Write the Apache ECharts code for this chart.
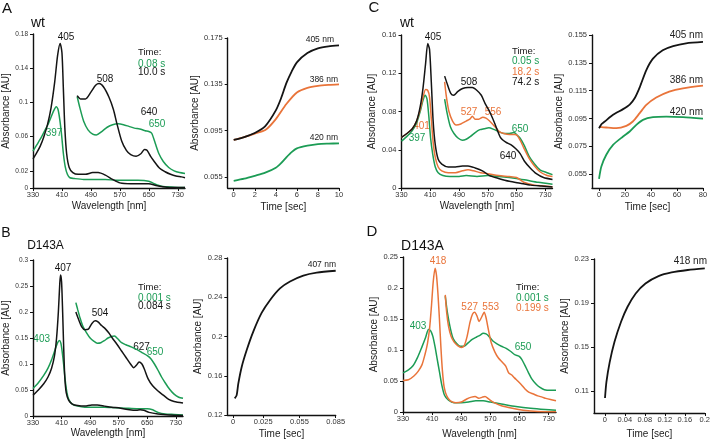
<!DOCTYPE html>
<html><head><meta charset="utf-8">
<script src="https://cdn.jsdelivr.net/npm/echarts@6/dist/echarts.min.js"></script>
<style>html,body{margin:0;padding:0;background:#fff}#c{width:713px;height:440px}</style>
</head><body><div id="c"></div>
<script>
// ---------- DATA ----------
const wlTicks = [330, 410, 490, 570, 650, 730];
// Panel A (wt) spectra
const A_black_full = [[330,0.034],[340,0.041],[350,0.049],[360,0.060],[370,0.074],[380,0.094],[390,0.124],[398,0.155],[405,0.169],[410,0.158],[414,0.115],[418,0.070],[423,0.040],[430,0.024],[440,0.018],[455,0.016],[475,0.016],[495,0.018],[510,0.018],[530,0.015],[550,0.010],[570,0.006],[600,0.005],[630,0.005],[650,0.005],[670,0.003],[700,0.001],[750,0.0005]];
const A_green_full = [[330,0.043],[340,0.050],[350,0.057],[360,0.065],[370,0.073],[380,0.083],[388,0.091],[394,0.095],[399,0.092],[404,0.080],[409,0.062],[414,0.040],[419,0.025],[425,0.016],[432,0.012],[445,0.011],[470,0.010],[500,0.010],[530,0.010],[560,0.009],[590,0.009],[620,0.009],[650,0.008],[665,0.005],[685,0.002],[720,0.001],[750,0.0005]];
const A_black_ins = [[452,0.108],[462,0.104],[475,0.104],[490,0.112],[503,0.120],[513,0.122],[525,0.118],[540,0.106],[552,0.092],[562,0.075],[575,0.055],[588,0.044],[600,0.039],[615,0.037],[628,0.040],[638,0.045],[645,0.044],[655,0.037],[665,0.031],[680,0.023],[695,0.019],[710,0.016],[725,0.014],[740,0.013],[750,0.012]];
const A_green_ins = [[452,0.107],[460,0.093],[470,0.078],[482,0.068],[495,0.063],[505,0.062],[520,0.066],[535,0.071],[550,0.074],[565,0.075],[580,0.074],[595,0.072],[610,0.070],[625,0.069],[640,0.067],[650,0.066],[658,0.064],[668,0.052],[678,0.040],[690,0.031],[705,0.024],[720,0.020],[735,0.018],[750,0.017]];
// Panel A kinetics (sec, AU)
const A_k405 = [[0,0.087],[1,0.0895],[2,0.093],[3,0.099],[4,0.1125],[4.5,0.123],[5,0.136],[5.5,0.146],[6,0.154],[7,0.162],[8,0.166],[9,0.1678],[10,0.1687]];
const A_k386 = [[0,0.087],[1,0.0895],[2,0.0925],[3,0.0955],[4,0.105],[5,0.118],[6,0.128],[7,0.132],[8,0.1337],[9,0.1345],[10,0.135]];
const A_k420 = [[0,0.0516],[1,0.0535],[2,0.056],[3,0.0587],[4,0.063],[4.5,0.067],[5,0.072],[5.5,0.0765],[6,0.0797],[7,0.082],[8,0.0834],[9,0.0838],[10,0.084]];
// Panel B (D143A) spectra
const B_black_full = [[330,0.040],[345,0.050],[360,0.062],[372,0.075],[382,0.092],[390,0.115],[396,0.150],[401,0.200],[405,0.255],[407,0.271],[410,0.258],[413,0.200],[416,0.130],[419,0.075],[423,0.045],[430,0.030],[440,0.023],[455,0.020],[475,0.019],[495,0.021],[510,0.021],[530,0.019],[550,0.017],[575,0.015],[600,0.012],[620,0.011],[630,0.012],[640,0.011],[655,0.007],[680,0.004],[710,0.002],[750,0.001]];
const B_green_full = [[330,0.053],[345,0.064],[360,0.078],[372,0.092],[382,0.108],[392,0.128],[399,0.141],[404,0.145],[408,0.140],[412,0.122],[416,0.098],[420,0.070],[425,0.045],[430,0.032],[440,0.023],[455,0.019],[475,0.017],[500,0.017],[530,0.017],[560,0.016],[590,0.015],[620,0.014],[650,0.014],[665,0.012],[680,0.007],[700,0.004],[725,0.003],[750,0.002]];
const B_black_ins = [[450,0.200],[458,0.185],[466,0.172],[475,0.166],[485,0.167],[495,0.178],[504,0.183],[512,0.181],[522,0.174],[532,0.168],[542,0.160],[552,0.150],[565,0.138],[578,0.125],[590,0.113],[603,0.100],[612,0.093],[620,0.098],[627,0.104],[635,0.100],[642,0.090],[652,0.072],[665,0.058],[680,0.048],[695,0.040],[710,0.032],[725,0.028],[750,0.025]];
const B_green_ins = [[450,0.218],[455,0.205],[462,0.188],[470,0.172],[480,0.160],[490,0.150],[500,0.144],[510,0.140],[520,0.141],[530,0.145],[540,0.150],[550,0.153],[558,0.154],[568,0.148],[578,0.141],[590,0.137],[605,0.133],[620,0.128],[635,0.122],[650,0.116],[660,0.110],[670,0.100],[680,0.088],[690,0.075],[700,0.064],[712,0.052],[725,0.042],[738,0.036],[750,0.034]];
// Panel B kinetics
const B_k407 = [[0.0014,0.137],[0.003,0.140],[0.0044,0.152],[0.0072,0.169],[0.0113,0.186],[0.0168,0.205],[0.0237,0.224],[0.0306,0.237],[0.0389,0.249],[0.0472,0.256],[0.0582,0.262],[0.0693,0.265],[0.085,0.267]];
// Panel C (wt) spectra
const C_black_full = [[330,0.053],[345,0.057],[360,0.062],[372,0.070],[382,0.085],[390,0.105],[397,0.130],[403,0.151],[408,0.145],[413,0.110],[418,0.070],[424,0.045],[432,0.030],[442,0.025],[460,0.022],[480,0.022],[500,0.023],[515,0.023],[535,0.021],[555,0.018],[575,0.013],[600,0.010],[630,0.007],[660,0.005],[690,0.003],[720,0.002],[750,0.001]];
const C_orange_full = [[330,0.053],[345,0.057],[360,0.062],[372,0.070],[382,0.082],[390,0.095],[397,0.103],[403,0.102],[408,0.095],[413,0.072],[418,0.048],[424,0.032],[432,0.022],[442,0.018],[460,0.016],[480,0.016],[500,0.018],[515,0.019],[530,0.018],[550,0.016],[570,0.015],[600,0.013],[630,0.012],[650,0.011],[670,0.006],[700,0.003],[730,0.002],[750,0.001]];
const C_green_full = [[330,0.049],[345,0.054],[360,0.060],[372,0.068],[382,0.080],[390,0.092],[396,0.097],[401,0.093],[406,0.075],[411,0.052],[417,0.035],[424,0.022],[432,0.016],[445,0.013],[465,0.012],[490,0.012],[510,0.013],[540,0.012],[570,0.013],[600,0.012],[630,0.011],[650,0.010],[680,0.008],[710,0.006],[750,0.004]];
const C_black_ins = [[450,0.117],[458,0.108],[467,0.099],[475,0.097],[487,0.101],[500,0.104],[515,0.105],[527,0.105],[540,0.102],[552,0.097],[563,0.088],[575,0.080],[590,0.067],[605,0.053],[620,0.048],[635,0.045],[648,0.041],[660,0.036],[672,0.028],[688,0.021],[705,0.015],[725,0.011],[750,0.009]];
const C_orange_ins = [[450,0.111],[455,0.095],[462,0.080],[472,0.070],[482,0.066],[495,0.067],[510,0.070],[520,0.072],[527,0.075],[535,0.072],[545,0.072],[556,0.074],[565,0.073],[575,0.070],[590,0.064],[602,0.059],[615,0.057],[630,0.056],[645,0.056],[652,0.055],[660,0.050],[670,0.042],[685,0.031],[700,0.023],[715,0.017],[735,0.013],[750,0.012]];
const C_green_ins = [[450,0.093],[457,0.078],[466,0.064],[476,0.057],[488,0.052],[499,0.050],[510,0.051],[522,0.054],[535,0.058],[548,0.061],[560,0.062],[573,0.063],[588,0.061],[600,0.059],[615,0.057],[630,0.057],[643,0.058],[652,0.055],[660,0.052],[672,0.044],[685,0.033],[700,0.025],[715,0.019],[735,0.016],[750,0.014]];
// Panel C kinetics
const C_k405 = [[0,0.088],[2,0.091],[4.4,0.0928],[10.8,0.0976],[18.5,0.1017],[23.6,0.105],[27.4,0.1095],[31.3,0.1174],[36.4,0.1298],[41.5,0.138],[49,0.144],[57,0.147],[67,0.149],[80,0.150]];
const C_k386 = [[0,0.089],[5.6,0.0885],[13.3,0.088],[21,0.0897],[26,0.0928],[31.3,0.0988],[36.4,0.1047],[44,0.110],[54,0.1143],[64.6,0.1167],[80,0.1186]];
const C_k420 = [[0,0.0516],[1.8,0.0605],[5.6,0.0689],[10.8,0.076],[18.5,0.082],[23.6,0.0856],[28.7,0.0904],[33.8,0.094],[41.5,0.0959],[51.8,0.0963],[64.6,0.0959],[80,0.0949]];
// Panel D (D143A) spectra
const D_orange_full = [[330,0.051],[345,0.052],[360,0.058],[372,0.066],[382,0.076],[390,0.092],[397,0.110],[403,0.135],[408,0.170],[413,0.210],[418,0.232],[422,0.220],[426,0.190],[430,0.150],[434,0.105],[438,0.068],[443,0.040],[450,0.026],[460,0.018],[475,0.015],[490,0.016],[505,0.021],[518,0.024],[528,0.025],[538,0.022],[548,0.024],[555,0.025],[565,0.021],[580,0.015],[600,0.010],[630,0.006],[660,0.003],[700,0.001],[750,0.0005]];
const D_green_full = [[330,0.063],[345,0.068],[358,0.075],[370,0.088],[382,0.105],[392,0.120],[400,0.133],[406,0.131],[412,0.122],[418,0.105],[424,0.085],[430,0.065],[436,0.045],[444,0.027],[455,0.019],[470,0.015],[490,0.015],[510,0.016],[530,0.018],[550,0.018],[570,0.016],[600,0.013],[640,0.009],[680,0.006],[720,0.004],[750,0.003]];
const D_orange_ins = [[446,0.189],[450,0.160],[455,0.138],[462,0.122],[470,0.113],[480,0.107],[490,0.104],[498,0.107],[506,0.122],[514,0.145],[521,0.158],[527,0.161],[533,0.155],[539,0.146],[545,0.152],[553,0.161],[558,0.152],[564,0.134],[572,0.112],[582,0.097],[592,0.087],[603,0.080],[612,0.074],[620,0.063],[628,0.060],[636,0.055],[645,0.050],[655,0.044],[665,0.037],[675,0.032],[688,0.029],[700,0.026],[712,0.024],[722,0.022],[735,0.020],[750,0.018]];
const D_green_ins = [[446,0.187],[452,0.160],[460,0.135],[468,0.118],[478,0.110],[487,0.106],[497,0.106],[508,0.111],[520,0.117],[532,0.121],[542,0.124],[550,0.127],[558,0.126],[566,0.122],[576,0.115],[588,0.110],[600,0.106],[612,0.103],[625,0.098],[638,0.092],[648,0.090],[656,0.085],[664,0.076],[674,0.064],[684,0.053],[695,0.045],[705,0.040],[718,0.036],[735,0.035],[750,0.035]];
// Panel D kinetics
const D_k418 = [[0.0005,0.1036],[0.0033,0.118],[0.0098,0.136],[0.0195,0.1547],[0.0326,0.173],[0.0456,0.1866],[0.0619,0.1987],[0.0814,0.2078],[0.1075,0.2145],[0.1336,0.2178],[0.166,0.220],[0.2,0.2215]];
// tick labels
const A_yTicks = [0, 0.02, 0.06, 0.1, 0.14, 0.18];
const A_kxTicks = [0, 2, 4, 6, 8, 10];
const A_kyTicks = [0.055, 0.095, 0.135, 0.175];
const B_kxTicks = [0, 0.025, 0.055, 0.085];
const C_kxTicks = [0, 20, 40, 60, 80];
const C_kyTicks = [0.055, 0.075, 0.095, 0.115, 0.135, 0.155];
const D_kxTicks = [0, 0.04, 0.08, 0.12, 0.16, 0.2];
const D_kyTicks = [0.11, 0.15, 0.19, 0.23];

// ---------- STYLE ----------
const BLACK = '#141414', GREEN = '#1c9c55', ORANGE = '#e9743a';
const FONT = 'Liberation Sans, Arial, sans-serif';
const axLine = {show: true, onZero: false, lineStyle: {color: '#111', width: 1.4}};

function grid(l, t, w, h) { return {left: l, top: t, width: w, height: h, containLabel: false}; }
function xAx(gi, min, max, ticks, name, gap, fs) {
  return {type: 'value', gridIndex: gi, min: min, max: max, axisLine: axLine,
    axisTick: {show: true, length: 3, customValues: ticks, lineStyle: {color: '#111', width: 1}},
    axisLabel: {customValues: ticks, fontSize: fs || 7.5, color: '#333', margin: 3, fontFamily: FONT},
    splitLine: {show: false}, name: name, nameLocation: 'middle', nameGap: gap,
    nameTextStyle: {fontSize: 10, color: '#222', fontFamily: FONT}};
}
function yAx(gi, min, max, ticks, gap, fs) {
  return {type: 'value', gridIndex: gi, min: min, max: max, axisLine: axLine,
    axisTick: {show: true, length: 3, customValues: ticks, lineStyle: {color: '#111', width: 1}},
    axisLabel: {customValues: ticks, fontSize: fs || 7.5, color: '#333', margin: 5, fontFamily: FONT},
    splitLine: {show: false}, name: 'Absorbance [AU]', nameLocation: 'middle', nameGap: gap, nameRotate: 90,
    nameTextStyle: {fontSize: 10, color: '#222', fontFamily: FONT}};
}
function ln(gi, data, color, w) {
  return {type: 'line', xAxisIndex: gi, yAxisIndex: gi, data: data, showSymbol: false, symbol: 'none',
    smooth: 0.25, lineStyle: {color: color, width: w || 1.5}, silent: true, animation: false, z: 3};
}
function txt(t, x, y, color, size, align) {
  return {type: 'text', x: x, y: y, silent: true,
    style: {text: t, fill: color, font: size + 'px ' + FONT, align: align || 'center', verticalAlign: 'middle'}};
}

const grids = [
  grid(33, 34, 152, 154),     // 0 A spec
  grid(227.7, 38, 111.3, 150),// 1 A kin
  grid(401.5, 35, 151, 153),  // 2 C spec
  grid(592, 35, 111, 153),    // 3 C kin
  grid(32, 260, 151, 156),    // 4 B spec
  grid(227.3, 258, 108.4, 157),// 5 B kin
  grid(403, 257, 153, 155),   // 6 D spec
  grid(594, 259, 113.3, 154)  // 7 D kin
];
const xAxes = [
  xAx(0, 330, 750, wlTicks, 'Wavelength [nm]', 13),
  xAx(1, -0.57, 10, A_kxTicks, 'Time [sec]', 14),
  xAx(2, 330, 750, wlTicks, 'Wavelength [nm]', 13),
  xAx(3, -5.4, 80, C_kxTicks, 'Time [sec]', 14),
  xAx(4, 330, 750, wlTicks, 'Wavelength [nm]', 5),
  xAx(5, -0.0047, 0.085, B_kxTicks, 'Time [sec]', 14),
  xAx(6, 330, 750, wlTicks, 'Wavelength [nm]', 17),
  xAx(7, -0.0215, 0.2, D_kxTicks, 'Time [sec]', 16)
];
const yAxes = [
  yAx(0, 0, 0.18, A_yTicks, 22, 6.5),
  yAx(1, 0.0455, 0.175, A_kyTicks, 26),
  yAx(2, 0, 0.16, [0, 0.04, 0.08, 0.12, 0.16], 24),
  yAx(3, 0.045, 0.155, C_kyTicks, 24),
  yAx(4, 0, 0.3, [0, 0.05, 0.1, 0.15, 0.2, 0.25, 0.3], 22, 6.5),
  yAx(5, 0.12, 0.28, [0.12, 0.16, 0.2, 0.24, 0.28], 24),
  yAx(6, 0, 0.25, [0, 0.05, 0.1, 0.15, 0.2, 0.25], 24),
  yAx(7, 0.09, 0.23, D_kyTicks, 24)
];
const series = [
  ln(0, A_green_full, GREEN), ln(0, A_black_full, BLACK), ln(0, A_green_ins, GREEN), ln(0, A_black_ins, BLACK),
  ln(1, A_k420, GREEN, 1.8), ln(1, A_k386, ORANGE, 1.8), ln(1, A_k405, BLACK, 1.8),
  ln(2, C_green_full, GREEN), ln(2, C_orange_full, ORANGE), ln(2, C_black_full, BLACK),
  ln(2, C_green_ins, GREEN), ln(2, C_orange_ins, ORANGE), ln(2, C_black_ins, BLACK),
  ln(3, C_k420, GREEN, 1.8), ln(3, C_k386, ORANGE, 1.8), ln(3, C_k405, BLACK, 1.8),
  ln(4, B_green_full, GREEN), ln(4, B_black_full, BLACK), ln(4, B_green_ins, GREEN), ln(4, B_black_ins, BLACK),
  ln(5, B_k407, BLACK, 1.8),
  ln(6, D_green_full, GREEN), ln(6, D_orange_full, ORANGE), ln(6, D_green_ins, GREEN), ln(6, D_orange_ins, ORANGE),
  ln(7, D_k418, BLACK, 1.8)
];
const texts = [
  txt('A', 7, 9, '#111', 15), txt('wt', 38, 23, '#111', 14),
  txt('405', 66, 37.5, BLACK, 10), txt('508', 105, 79, BLACK, 10), txt('640', 149, 112, BLACK, 10),
  txt('650', 157, 124, GREEN, 10), txt('397', 54, 133, GREEN, 10),
  txt('Time:', 138, 52.5, BLACK, 9.5, 'left'), txt('0.08 s', 138, 64, GREEN, 10, 'left'), txt('10.0 s', 138, 72.5, BLACK, 10, 'left'),
  txt('405 nm', 334, 40, '#222', 8.5, 'right'), txt('386 nm', 338, 79.5, '#222', 8.5, 'right'), txt('420 nm', 338, 137.5, '#222', 8.5, 'right'),
  txt('C', 374, 8, '#111', 15), txt('wt', 407, 23, '#111', 14),
  txt('405', 433, 37.3, BLACK, 10), txt('508', 469, 82.5, BLACK, 10),
  txt('527', 469, 112.5, ORANGE, 10), txt('556', 493, 112.5, ORANGE, 10),
  txt('650', 520, 129, GREEN, 10), txt('640', 508, 156, BLACK, 10),
  txt('401', 421.5, 126, ORANGE, 10), txt('397', 417, 138.5, GREEN, 10),
  txt('Time:', 512, 51, BLACK, 9.5, 'left'), txt('0.05 s', 512, 61.5, GREEN, 10, 'left'),
  txt('18.2 s', 512, 72, ORANGE, 10, 'left'), txt('74.2 s', 512, 82.7, BLACK, 10, 'left'),
  txt('405 nm', 703, 35, '#222', 10, 'right'), txt('386 nm', 703, 80, '#222', 10, 'right'), txt('420 nm', 703, 112, '#222', 10, 'right'),
  txt('B', 6, 233, '#111', 14), txt('D143A', 45.5, 246, '#111', 12),
  txt('407', 63, 268, BLACK, 10), txt('504', 100, 313.5, BLACK, 10), txt('627', 141.5, 347, BLACK, 10),
  txt('650', 155, 352.5, GREEN, 10), txt('403', 41.7, 339, GREEN, 10),
  txt('Time:', 138, 287, BLACK, 9.5, 'left'), txt('0.001 s', 138, 298.5, GREEN, 10, 'left'), txt('0.084 s', 138, 306.5, BLACK, 10, 'left'),
  txt('407 nm', 336, 265, '#222', 8.5, 'right'),
  txt('D', 372, 232, '#111', 15), txt('D143A', 422.5, 246, '#111', 14),
  txt('418', 438, 261, ORANGE, 10), txt('527', 469.7, 307, ORANGE, 10), txt('553', 490.7, 307, ORANGE, 10),
  txt('403', 418, 326, GREEN, 10), txt('650', 523, 347, GREEN, 10),
  txt('Time:', 516, 287, BLACK, 9.5, 'left'), txt('0.001 s', 516, 298.5, GREEN, 10, 'left'), txt('0.199 s', 516, 308, ORANGE, 10, 'left'),
  txt('418 nm', 707, 261.5, '#222', 10, 'right')
];

const chart = echarts.init(document.getElementById('c'), null, {renderer: 'canvas'});
chart.setOption({
  backgroundColor: '#fff', animation: false,
  textStyle: {fontFamily: FONT},
  grid: grids, xAxis: xAxes, yAxis: yAxes, series: series, graphic: texts
});
</script></body></html>
